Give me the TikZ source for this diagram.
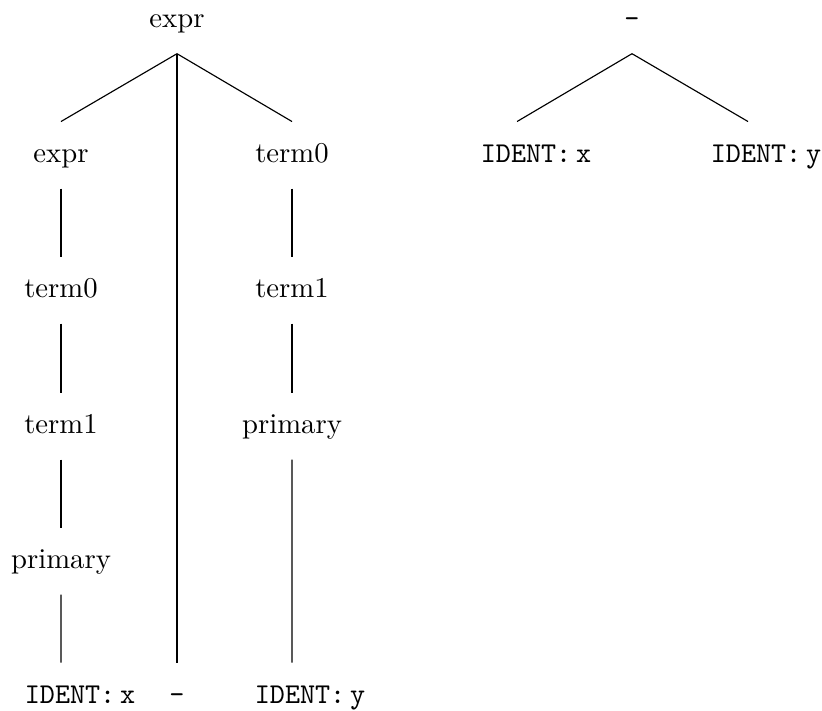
\documentclass[tikz,border=0pt]{standalone}
\usepackage{tikz}
\usepackage{amsmath}

\begin{document}
\begin{tikzpicture}[x=0.3484pt,y=-0.3484pt,
        every node/.style={anchor=base,inner sep=0pt,text height=13.9pt,text depth=9.1pt},
        tt/.style={font=\ttfamily}]
                \useasboundingbox (0,0) rectangle (822,711);
                % left tree
                \node (1)  at (177,27)  {expr};
                \node (2)  at (61,162)  {expr};
                \node (3)  at (292,162) {term0};
                \node (4)  at (61,297)  {term0};
                \node (5)  at (61,433)  {term1};
                \node (6)  at (61,568)  {primary};
                \node (7)  at (80,703)  {\texttt{IDENT:}\,\texttt{x}};
                \node (8)  at (177,703) {\texttt{-}};
                \node (9)  at (292,297) {term1};
                \node (10) at (292,433) {primary};
                \node (11) at (310,703) {\texttt{IDENT:}\,\texttt{y}};
                % right tree
                \node (12) at (632,27)  {\texttt{-}};
                \node (13) at (536,162) {\texttt{IDENT:}\,\texttt{x}};
                \node (14) at (766,162) {\texttt{IDENT:}\,\texttt{y}};

                    \path[-] (1.south) edge (2.north)
                                       edge (8.north)
                                       edge (3.north)
                             (2.south) edge (4.north)
                             (4.south) edge (5.north)
                             (5.south) edge (6.north)
                             (6.south) edge ([xshift=-6.6pt]7.north)
                             (3.south) edge (9.north)
                             (9.south) edge (10.north)
                             (10.south) edge ([xshift=-6.27pt]11.north)
                             (12.south) edge ([xshift=-6.6pt]13.north)
                                        edge ([xshift=-6.27pt]14.north);
            \end{tikzpicture}
\end{document}
